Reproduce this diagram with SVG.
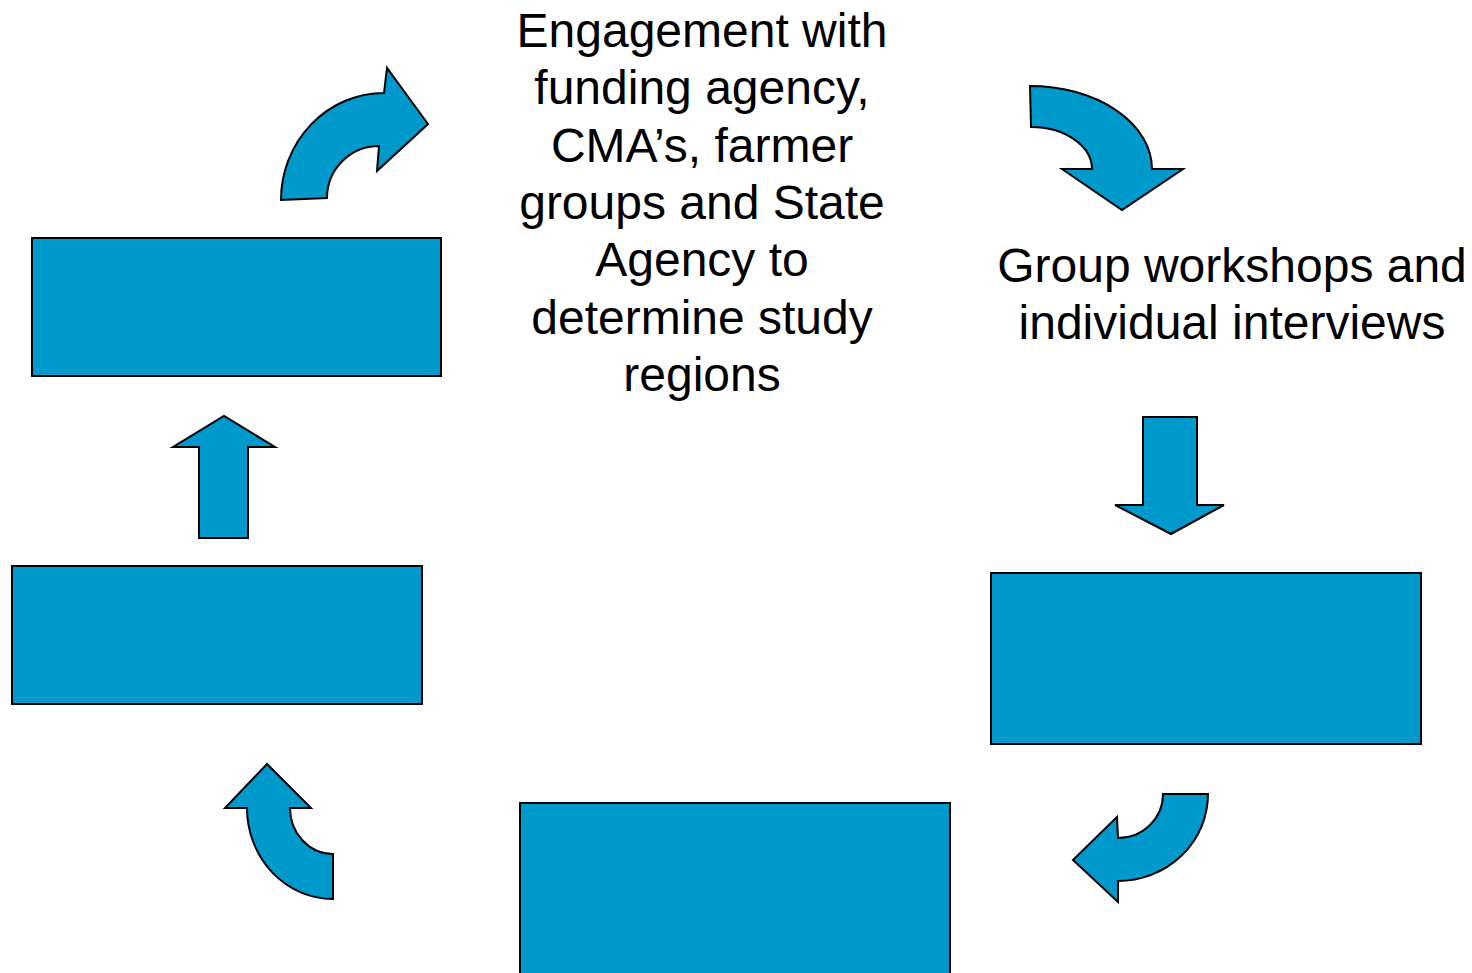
<svg xmlns="http://www.w3.org/2000/svg" width="1472" height="973" viewBox="0 0 1472 973">
<style>
.shape{fill:#0099CC;stroke:#000;stroke-width:2;stroke-linejoin:miter}
.lbl{font-family:"Liberation Sans",Arial,sans-serif;font-size:48px;fill:#000;text-anchor:middle}
</style>
<rect width="1472" height="973" fill="#fff"/>
<g id="node-engagement">
<text class="lbl"><tspan x="702" y="47">Engagement with</tspan><tspan x="702" y="104">funding agency,</tspan><tspan x="702" y="162">CMA’s, farmer</tspan><tspan x="702" y="219">groups and State</tspan><tspan x="702" y="276">Agency to</tspan><tspan x="702" y="334">determine study</tspan><tspan x="702" y="391">regions</tspan></text>
</g>
<g id="node-workshops">
<text class="lbl"><tspan x="1232" y="282">Group workshops and</tspan><tspan x="1232" y="339">individual interviews</tspan></text>
</g>
<g id="node-box-right"><rect class="shape" x="991" y="573" width="430" height="171"/></g>
<g id="node-box-bottom"><rect class="shape" x="520" y="803" width="430" height="180"/></g>
<g id="node-box-left-lower"><rect class="shape" x="12" y="566" width="410" height="138"/></g>
<g id="node-box-left-upper"><rect class="shape" x="32" y="238" width="409" height="138"/></g>
<g id="connectors">
<path class="shape" d="M281,200 A103,107 0 0 1 384,93 L387,68 L428,124 L377,171 L379,146 A52,52 0 0 0 327,198 Z"/>
<path class="shape" d="M1030,86 A122,83 0 0 1 1152,169 L1183,169 L1122,210 L1062,169 L1092,169 A61,42 0 0 0 1031,127 Z"/>
<path class="shape" d="M1143,417 L1197,417 L1197,505 L1224,505 L1171,534 L1115,505 L1143,505 Z"/>
<path class="shape" d="M1208,794 A90,87 0 0 1 1118,881 L1118,902 L1073,860 L1117,817 L1118,838 A45,44 0 0 0 1163,794 Z"/>
<path class="shape" d="M333,899 A86,91 0 0 1 247,808 L225,808 L267,764 L311,808 L290,808 A43,46 0 0 0 333,854 Z"/>
<path class="shape" d="M199,538 L199,447 L173,447 L224,416 L275,447 L248,447 L248,538 Z"/>
</g>
</svg>
